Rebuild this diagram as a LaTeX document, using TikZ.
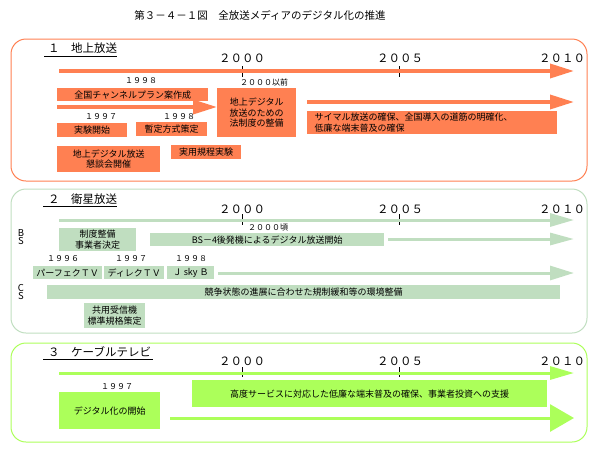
\documentclass[tikz,border=0pt]{standalone}
\usepackage{fontspec}
\setmainfont{Noto Sans CJK JP}
\usetikzlibrary{arrows.meta}
\definecolor{cor}{RGB}{255,128,82}
\definecolor{bsg}{RGB}{192,222,192}
\definecolor{lim}{RGB}{172,255,90}
\tikzset{
 every node/.style={font=\fontsize{9}{10.5}\selectfont, inner sep=0pt},
 box/.style={anchor=north west, align=center, inner sep=0pt},
 obox/.style={box, fill=cor},
 gbox/.style={box, fill=bsg},
 lbox/.style={box, fill=lim},
 yr/.style={font=\fontsize{8}{9}\selectfont},
 bsl/.style={font=\fontsize{9.5}{10}\selectfont},
 big/.style={font=\fontsize{11.5}{12}\selectfont},
 ttl/.style={font=\fontsize{10.5}{12}\selectfont},
 panel/.style={line width=1pt, rounded corners=15pt},
 tickl/.style={black, line width=0.8pt},
 uline/.style={black, line width=0.8pt},
 tl/.style={line width=3.5pt, -{Triangle[length=24pt,width=#1]}},
 tl/.default=14pt,
}
\begin{document}
\begin{tikzpicture}[x=1pt,y=-1pt]
\useasboundingbox (0,0) rectangle (599,456);
\node[ttl] (title) at (260,15) {第３－４－１図　全放送メディアのデジタル化の推進};

% ===== Panel 1 =====
\draw[cor, panel] (11,39) rectangle (587,181);
\node[big, anchor=west] (s1) at (48,48) {１　地上放送};
\draw[uline] (44,56) -- (117,56);
\node[big] (p1y0) at (242,58) {２０００};
\node[big] (p1y5) at (400,58) {２００５};
\node[big] (p1y10) at (562,58) {２０１０};
\draw[tickl] (242,66) -- (242,77);
\draw[tickl] (399,66) -- (399,77);
\coordinate (m1s) at (59,71); \coordinate (m1e) at (574,71);
\draw[cor, tl] (m1s) -- (m1e);
\node[yr] (p1a) at (141,81) {１９９８};
\node[yr, anchor=west] (p1b) at (240,82) {２０００以前};
\node[obox, minimum width=151pt, minimum height=13pt] (b1) at (57,88) {全国チャンネルプラン案作成};
\coordinate (a1s) at (57,107); \coordinate (a1e) at (217,107);
\draw[cor, tl] (a1s) -- (a1e);
\node[obox, minimum width=79pt, minimum height=49pt] (b2) at (217,88) {地上デジタル\\放送のための\\法制度の整備};
\node[yr] (p1c) at (101,117) {１９９７};
\node[yr] (p1d) at (179,117) {１９９８};
\node[obox, minimum width=70pt, minimum height=14pt] (b3) at (57,123) {実験開始};
\node[obox, minimum width=71pt, minimum height=14pt] (b4) at (136,122) {暫定方式策定};
\node[obox, minimum width=103pt, minimum height=26pt] (b5) at (57,146) {地上デジタル放送\\懇談会開催};
\node[obox, minimum width=70pt, minimum height=14pt] (b6) at (171,145) {実用規程実験};
\coordinate (a2s) at (307,102); \coordinate (a2e) at (574,102);
\draw[cor, tl] (a2s) -- (a2e);
\node[obox, minimum width=250pt, minimum height=23pt, align=left, text width=245pt, inner xsep=0pt] (b7) at (307,111) {\hspace*{5pt}サイマル放送の確保、全国導入の道筋の明確化、\\\hspace*{5pt}低廉な端末普及の確保};

% ===== Panel 2 =====
\draw[bsg, panel] (11,189) rectangle (587,333);
\node[big, anchor=west] (s2) at (48,199) {２　衛星放送};
\draw[uline] (43,206) -- (117,206);
\node[big] (p2y0) at (242,209) {２０００};
\node[big] (p2y5) at (400,209) {２００５};
\node[big] (p2y10) at (562,209) {２０１０};
\draw[tickl] (242,214) -- (242,225);
\draw[tickl] (399,214) -- (399,225);
\coordinate (m2s) at (59,220); \coordinate (m2e) at (574,220);
\draw[bsg, line width=3pt, -{Triangle[length=24pt,width=13pt]}] (m2s) -- (m2e);
\node[yr, anchor=west] (p2a) at (248,228) {２０００頃};
\node[bsl] (bs1) at (21,233) {B};
\node[bsl] (bs2) at (21,241) {S};
\node[gbox, minimum width=77pt, minimum height=23pt] (g1) at (59,228) {制度整備\\事業者決定};
\node[gbox, minimum width=234pt, minimum height=13pt] (g2) at (150,233) {BS－4後発機によるデジタル放送開始};
\coordinate (a3s) at (388,239); \coordinate (a3e) at (574,239);
\draw[bsg, line width=3pt, -{Triangle[length=24pt,width=12pt]}] (a3s) -- (a3e);
\node[yr] (p2b) at (63,259) {１９９６};
\node[yr] (p2c) at (131,259) {１９９７};
\node[yr] (p2d) at (191,259) {１９９８};
\node[gbox, minimum width=69pt, minimum height=13pt] (g3) at (33,266) {パーフェクＴＶ};
\node[gbox, minimum width=60pt, minimum height=13pt] (g4) at (104,266) {ディレクＴＶ};
\node[gbox, minimum width=47pt, minimum height=13pt] (g5) at (167,266) {Ｊ sky Ｂ};
\coordinate (a4s) at (218,273); \coordinate (a4e) at (574,273);
\draw[bsg, line width=3pt, -{Triangle[length=24pt,width=14pt]}] (a4s) -- (a4e);
\node[bsl] (cs1) at (21,288) {C};
\node[bsl] (cs2) at (21,296) {S};
\node[gbox, minimum width=513pt, minimum height=14pt] (g6) at (47,285) {競争状態の進展に合わせた規制緩和等の環境整備};
\node[gbox, minimum width=61pt, minimum height=25pt] (g7) at (84,303) {共用受信機\\標準規格策定};

% ===== Panel 3 =====
\draw[lim, panel] (11,343) rectangle (587,442);
\node[big, anchor=west] (s3) at (48,352) {３　ケーブルテレビ};
\draw[uline] (43,359) -- (153,359);
\node[big] (p3y0) at (242,361) {２０００};
\node[big] (p3y5) at (400,361) {２００５};
\node[big] (p3y10) at (562,361) {２０１０};
\draw[tickl] (242,367) -- (242,377);
\draw[tickl] (399,367) -- (399,377);
\coordinate (m3s) at (59,373); \coordinate (m3e) at (574,373);
\draw[lim, line width=3pt, -{Triangle[length=24pt,width=13pt]}] (m3s) -- (m3e);
\node[yr] (p3a) at (117,387) {１９９７};
\node[lbox, minimum width=101pt, minimum height=37pt] (l1) at (59,392) {デジタル化の開始};
\node[lbox, minimum width=355pt, minimum height=27pt] (l2) at (192,380) {高度サービスに対応した低廉な端末普及の確保、事業者投資への支援};
\coordinate (a5s) at (170,418); \coordinate (a5e) at (574,418);
\draw[lim, line width=3pt, -{Triangle[length=24pt,width=27pt]}] (a5s) -- (a5e);
\end{tikzpicture}
\end{document}
